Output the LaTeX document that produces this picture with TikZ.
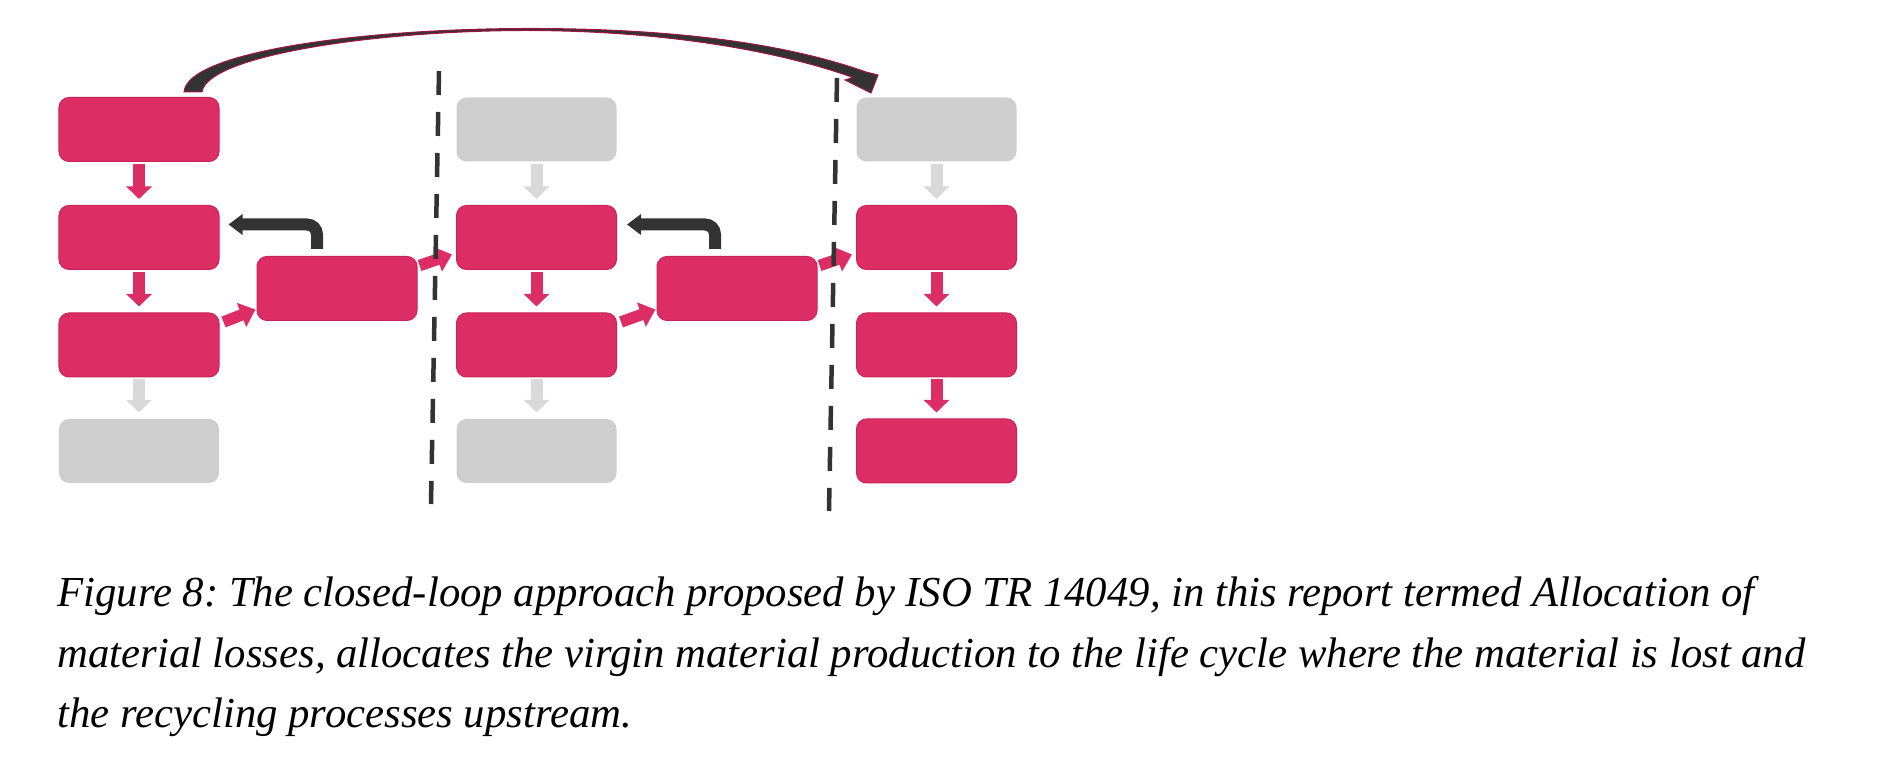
\documentclass[tikz,border=0pt]{standalone}
\usepackage{fontspec}
\usepackage{graphicx}
\usetikzlibrary{arrows.meta,calc}
\newfontfamily\capfont{Liberation Serif}
\frenchspacing
\definecolor{pinkc}{RGB}{220,46,101}
\definecolor{pinkd}{RGB}{200,36,88}
\definecolor{grayc}{RGB}{206,206,206}
\definecolor{graya}{RGB}{217,217,217}
\definecolor{darkc}{RGB}{51,51,51}
\definecolor{arcred}{RGB}{160,20,70}
\begin{document}
\begin{tikzpicture}[x=0.4pt,y=-0.4pt,
 procbox/.style={rectangle, rounded corners=4pt, minimum width=64pt, minimum height=25.6pt, inner sep=0pt},
 active/.style={procbox, fill=pinkc, draw=pinkd, line width=0.4pt},
 inactive/.style={procbox, fill=grayc},
 flow/.style={line width=4.8pt, -{Triangle[length=5pt,width=10pt]}, shorten <=0.8pt, shorten >=2.4pt},
 pinkflow/.style={flow, draw=pinkc},
 grayflow/.style={flow, draw=graya},
 diagflow/.style={line width=4.6pt, draw=pinkc, -{Triangle[length=6pt,width=10pt]}},
 feedback/.style={line width=4.8pt, draw=darkc, rounded corners=4pt, -{Triangle[length=5.6pt,width=8pt]}},
 divider/.style={line width=1.8pt, draw=darkc, dash pattern=on 9.6pt off 6.8pt},
 captext/.style={anchor=base west, inner sep=0pt, font=\capfont\itshape\fontsize{17.1pt}{20pt}\selectfont}
]
\useasboundingbox (0,0) rectangle (1899,757);

% column 1
\node[active]   (c1r1) at (139,129.5) {};
\node[active]   (c1r2) at (139,237.5) {};
\node[active]   (c1r3) at (139,345) {};
\node[inactive] (c1r4) at (139,451) {};
% recycling 1
\node[active]   (r1) at (337,288.5) {};
% column 2
\node[inactive] (c2r1) at (536.5,129.5) {};
\node[active]   (c2r2) at (536.5,237.5) {};
\node[active]   (c2r3) at (536.5,345) {};
\node[inactive] (c2r4) at (536.5,451) {};
% recycling 2
\node[active]   (r2) at (737,288.5) {};
% column 3
\node[inactive] (c3r1) at (936.5,129.5) {};
\node[active]   (c3r2) at (936.5,237.5) {};
\node[active]   (c3r3) at (936.5,345) {};
\node[active]   (c3r4) at (936.5,451) {};

% vertical flows
\draw[pinkflow] (c1r1.south) -- (c1r2.north);
\draw[pinkflow] (c1r2.south) -- (c1r3.north);
\draw[grayflow] (c1r3.south) -- (c1r4.north);
\draw[grayflow] (c2r1.south) -- (c2r2.north);
\draw[pinkflow] (c2r2.south) -- (c2r3.north);
\draw[grayflow] (c2r3.south) -- (c2r4.north);
\draw[grayflow] (c3r1.south) -- (c3r2.north);
\draw[pinkflow] (c3r2.south) -- (c3r3.north);
\draw[pinkflow] (c3r3.south) -- (c3r4.north);

% diagonal flows
\draw[diagflow] ($(c1r3.east)+(4,-23)$) -- ($(r1.west)+(-1,21)$);
\draw[diagflow] ($(r1.east)+(2,-23)$) -- ($(c2r2.west)+(-4,17)$);
\draw[diagflow] ($(c2r3.east)+(4,-23)$) -- ($(r2.west)+(-1,21)$);
\draw[diagflow] ($(r2.east)+(2,-23)$) -- ($(c3r2.west)+(-4,17)$);

% feedback loops
\draw[feedback] ($(r1.north)+(-20,-7)$) |- ($(c1r2.east)+(9,-13)$);
\draw[feedback] ($(r2.north)+(-22,-7)$) |- ($(c2r2.east)+(10,-13)$);

% big arc from column 1 to column 3
\coordinate (arcA) at ($(c1r1.north)+(45,-5)$);
\coordinate (arcB) at ($(c1r1.north)+(63,-5)$);
\coordinate (arcT) at ($(c3r1.north)+(-65.5,-4)$);
\fill[darkc, draw=arcred, line width=0.4pt]
  (arcA) .. controls (187,52) and (360,29) .. (524,28.5)
  .. controls (680,28) and (790,45) .. (866,72)
  -- (878,75) -- (arcT) -- (845,80) -- (853,77.5)
  .. controls (787,54) and (676,30.5) .. (524,30.5)
  .. controls (372,31) and (207,56) .. (arcB) -- cycle;

% dividers
\coordinate (d1a) at (439,71);
\coordinate (d1b) at (431,504);
\coordinate (d2a) at (837,78);
\coordinate (d2b) at (829,511);
\draw[divider] (d1a) -- (d1b);
\draw[divider] (d2a) -- (d2b);

% caption
\node[captext] (cap1) at (57,607) {\makebox[678.8pt][s]{Figure 8: The closed-loop approach proposed by ISO TR 14049, in this report termed Allocation of}};
\node[captext] (cap2) at (57,667) {\makebox[699.2pt][s]{material losses, allocates the virgin material production to the life cycle where the material is lost and}};
\node[captext] (cap3) at (57,727) {the recycling processes upstream.};
\end{tikzpicture}
\end{document}
